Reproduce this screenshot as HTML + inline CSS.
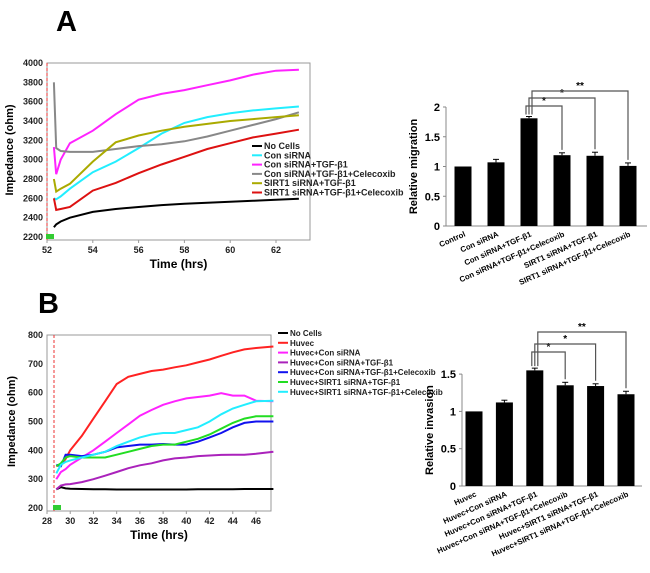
<!DOCTYPE html>
<html><head><meta charset="utf-8">
<style>
body{margin:0;background:#fff;}
svg{display:block;font-family:"Liberation Sans",Arial,sans-serif;font-weight:bold;}
</style></head>
<body>
<svg id="fig" width="650" height="573" viewBox="0 0 650 573">
<text x="56" y="31" font-size="29">A</text>
<text x="38" y="313" font-size="29">B</text>
<g id="lineA"></g>
<g id="barA"></g>
<g id="lineB"></g>
<g id="barB"></g>
</svg>
<script>
// ---- Panel A line chart data ----
const timesA = [52.3,52.4,52.6,53,54,55,56,57,58,59,60,61,62,63];
const noCellsA = [2300,2330,2360,2400,2460,2490,2510,2530,2545,2555,2565,2575,2585,2595];
const conSiA = [2600,2590,2620,2700,2870,2980,3120,3270,3380,3440,3480,3510,3530,3550];
const conTgfA = [3130,2850,3000,3170,3300,3470,3620,3680,3720,3770,3820,3880,3920,3930];
const conTgfCelA = [3800,3120,3090,3080,3080,3110,3140,3160,3190,3240,3300,3360,3420,3490];
const sirtTgfA = [2800,2670,2700,2750,2980,3180,3250,3300,3340,3370,3400,3420,3440,3460];
const sirtTgfCelA = [2600,2480,2490,2510,2680,2760,2860,2950,3030,3110,3170,3230,3270,3310];
const xTicksA = [52,54,56,58,60,62];
const yTicksA = [2200,2400,2600,2800,3000,3200,3400,3600,3800,4000];
const legendA = ["No Cells","Con siRNA","Con siRNA+TGF-β1","Con siRNA+TGF-β1+Celecoxib","SIRT1 siRNA+TGF-β1","SIRT1 siRNA+TGF-β1+Celecoxib"];

// ---- Panel B line chart data ----
const timesB = [28.8,29.2,29.6,30,31,32,33,34,35,36,37,38,39,40,41,42,43,44,45,46,47.5];
const noCellsB = [265,272,268,267,266,265,265,264,264,264,264,264,264,264,265,265,265,265,266,266,266];
const huvecB = [345,350,370,400,450,510,570,630,655,665,675,680,688,695,705,715,728,740,750,755,760];
const conSiB = [300,325,335,350,375,400,430,460,490,520,540,558,570,580,585,590,598,590,590,572,570];
const conTgfB = [265,278,282,283,290,300,312,325,338,348,355,365,372,375,380,382,384,385,385,388,395];
const conTgfCelB = [350,345,385,385,380,385,395,410,415,420,420,422,420,420,430,445,460,480,495,500,500];
const sirtTgfB = [345,355,375,380,375,375,375,385,395,405,415,420,420,430,440,455,475,495,510,518,518];
const sirtTgfCelB = [320,350,360,365,375,385,395,415,430,445,455,460,460,470,480,500,525,545,558,570,572];
const xTicksB = [28,30,32,34,36,38,40,42,44,46];
const yTicksB = [200,300,400,500,600,700,800];
const legendB = ["No Cells","Huvec","Huvec+Con siRNA","Huvec+Con siRNA+TGF-β1","Huvec+Con siRNA+TGF-β1+Celecoxib","Huvec+SIRT1 siRNA+TGF-β1","Huvec+SIRT1 siRNA+TGF-β1+Celecoxib"];

// ---- Bar chart data ----
const catsA = ["Control","Con siRNA","Con siRNA+TGF-β1","Con siRNA+TGF-β1+Celecoxib","SIRT1 siRNA+TGF-β1","SIRT1 siRNA+TGF-β1+Celecoxib"];
const valsA = [1,1.07,1.81,1.19,1.18,1.01];
const errA = [0,0.05,0.03,0.04,0.06,0.05];
const yTicksBarA = [0,0.5,1,1.5,2];
const sigA = ["*","*","**"];
const catsB = ["Huvec","Huvec+Con siRNA","Huvec+Con siRNA+TGF-β1","Huvec+Con siRNA+TGF-β1+Celecoxib","Huvec+SIRT1 siRNA+TGF-β1","Huvec+SIRT1 siRNA+TGF-β1+Celecoxib"];
const valsB = [1,1.12,1.55,1.35,1.34,1.23];
const errB = [0,0.03,0.03,0.04,0.03,0.04];
const yTicksBarB = [0,0.5,1,1.5];
const sigB = ["*","*","**"];

const NS="http://www.w3.org/2000/svg";
function mk(parent,tag,attrs,txt){const e=document.createElementNS(NS,tag);for(const k in attrs)e.setAttribute(k,attrs[k]);if(txt!==undefined)e.textContent=txt;parent.appendChild(e);return e;}

function lineChart(g,cfg){
  const X=t=>cfg.x0+(t-cfg.t0)*(cfg.x1-cfg.x0)/(cfg.t1-cfg.t0);
  const Y=v=>cfg.y0-(v-cfg.v0)*(cfg.y0-cfg.y1)/(cfg.v1-cfg.v0);
  const ax=mk(g,'rect',{x:cfg.x0,y:cfg.top,width:cfg.right-cfg.x0,height:cfg.y0+3-cfg.top,fill:'none',stroke:'#999','stroke-width':1});
  
  
  cfg.yt.forEach(v=>{const t=mk(g,'text',{x:cfg.x0-4,y:Y(v)+3,'font-size':9,'text-anchor':'end',fill:'#222'},v);
    });
  cfg.xt.forEach(v=>{mk(g,'line',{x1:X(v),x2:X(v),y1:cfg.y0+3,y2:cfg.y0+6,stroke:'#999'});
    const t=mk(g,'text',{x:X(v),y:cfg.y0+16,'font-size':9,'text-anchor':'middle',fill:'#222'},v);
    });
  const xt=mk(g,'text',{x:(cfg.x0+cfg.right)/2,y:cfg.xlabY,'font-size':12,'text-anchor':'middle'},'Time (hrs)');
  
  const yt=mk(g,'text',{x:0,y:0,'font-size':11,'text-anchor':'middle',transform:`translate(${cfg.ylabX},${(cfg.top+cfg.y0)/2}) rotate(-90)`},'Impedance (ohm)');
  
  mk(g,'line',{x1:cfg.dashX,x2:cfg.dashX,y1:cfg.top,y2:cfg.y0+3,stroke:'#e33','stroke-dasharray':'3,2','stroke-width':1});
  mk(g,'rect',{x:cfg.dashX-1,y:cfg.y0-3,width:8,height:5,fill:'#3c3'});
  cfg.series.forEach((s,i)=>{
    let d='';s.v.forEach((v,j)=>{d+=(j?'L':'M')+X(cfg.times[j]).toFixed(1)+','+Y(v).toFixed(1);});
    const p=mk(g,'path',{d:d,fill:'none',stroke:s.c,'stroke-width':2});
    
    
    const ly=cfg.legY+i*cfg.legDy;
    mk(g,'line',{x1:cfg.legX,x2:cfg.legX+10,y1:ly,y2:ly,stroke:s.c,'stroke-width':2});
    const lt=mk(g,'text',{x:cfg.legX+12,y:ly+3,'font-size':cfg.legFs,fill:'#222'},cfg.legend[i]);
    
    
  });
}

lineChart(document.getElementById('lineA'),{x0:47,x1:276,t0:52,t1:62,y0:237,y1:63,v0:2200,v1:4000,top:63,right:310,
  xt:xTicksA,yt:yTicksA,times:timesA,xlabY:268,ylabX:13,dashX:47,legX:252,legY:146,legDy:9.3,legFs:9,legend:legendA,
  series:[{v:noCellsA,c:'#000'},{v:conSiA,c:'#2ef'},{v:conTgfA,c:'#f2f'},{v:conTgfCelA,c:'#888'},{v:sirtTgfA,c:'#aa0'},{v:sirtTgfCelA,c:'#d11'}]});
lineChart(document.getElementById('lineB'),{x0:47,x1:256,t0:28,t1:46,y0:508,y1:335,v0:200,v1:800,top:335,right:271,
  xt:xTicksB,yt:yTicksB,times:timesB,xlabY:539,ylabX:15,dashX:54,legX:278,legY:333,legDy:9.8,legFs:8,legend:legendB,
  series:[{v:noCellsB,c:'#000'},{v:huvecB,c:'#f22'},{v:conSiB,c:'#f2f'},{v:conTgfB,c:'#a2b'},{v:conTgfCelB,c:'#11e'},{v:sirtTgfB,c:'#2d2'},{v:sirtTgfCelB,c:'#2ef'}]});

function barChart(g,cfg){
  const Y=v=>cfg.y0-v*cfg.ppu;
  const X=i=>cfg.c0+i*cfg.step;
  mk(g,'line',{x1:cfg.ax,x2:cfg.ax,y1:Y(cfg.yt[cfg.yt.length-1]),y2:cfg.y0,stroke:'#888'});
  mk(g,'line',{x1:cfg.ax,x2:cfg.right,y1:cfg.y0,y2:cfg.y0,stroke:'#888'});
  cfg.yt.forEach(v=>{mk(g,'line',{x1:cfg.ax-3,x2:cfg.ax,y1:Y(v),y2:Y(v),stroke:'#888'});
    const t=mk(g,'text',{x:cfg.ax-6,y:Y(v)+4,'font-size':11,'text-anchor':'end'},v);
    });
  const yt=mk(g,'text',{x:0,y:0,'font-size':11,'text-anchor':'middle',transform:`translate(${cfg.ylabX},${(Y(cfg.yt[cfg.yt.length-1])+cfg.y0)/2}) rotate(-90)`},cfg.ylab);
  
  cfg.vals.forEach((v,i)=>{
    const b=mk(g,'rect',{x:X(i)-cfg.bw/2,y:Y(v),width:cfg.bw,height:cfg.y0-Y(v),fill:'#000'});
    
    
    if(cfg.err[i]>0){mk(g,'line',{x1:X(i),x2:X(i),y1:Y(v),y2:Y(v+cfg.err[i]),stroke:'#000'});
      mk(g,'line',{x1:X(i)-3,x2:X(i)+3,y1:Y(v+cfg.err[i]),y2:Y(v+cfg.err[i]),stroke:'#000'});}
    const t=mk(g,'text',{x:0,y:0,'font-size':7.8,'text-anchor':'end',transform:`translate(${X(i)+3},${cfg.y0+10}) rotate(-24)`},cfg.cats[i]);
    
    
  });
  cfg.sig.forEach((s,k)=>{
    const j=3+k, yb=cfg.brY[k];
    const x1=X(2)-3+k*3, x2=X(j);
    mk(g,'path',{d:`M${x1},${Y(cfg.vals[2]+cfg.err[2])-2}V${yb}H${x2}V${Y(cfg.vals[j]+cfg.err[j])-3}`,fill:'none',stroke:'#555','stroke-width':1.2});
    const st=mk(g,'text',{x:(x1+x2)/2,y:yb-2,'font-size':10,'text-anchor':'middle'},s);
    
    
  });
}
barChart(document.getElementById('barA'),{cats:catsA,vals:valsA,err:errA,yt:yTicksBarA,ppu:59.5,y0:226,ax:446,right:647,c0:463,step:33,bw:17,
  ylab:'Relative migration',ylabX:417,sig:sigA,brY:[106,98,91]});
barChart(document.getElementById('barB'),{cats:catsB,vals:valsB,err:errB,yt:yTicksBarB,ppu:74.6,y0:486,ax:462,right:642,c0:474,step:30.4,bw:17,
  ylab:'Relative invasion',ylabX:433,sig:sigB,brY:[352,344,332]});
</script>
</body></html>
